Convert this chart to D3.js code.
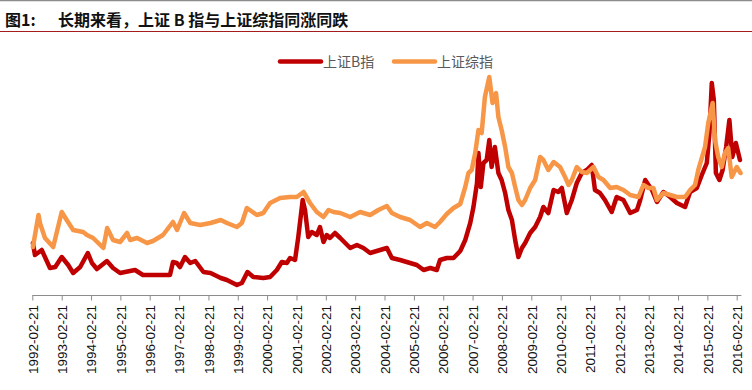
<!DOCTYPE html>
<html><head><meta charset="utf-8">
<script src="https://cdn.jsdelivr.net/npm/d3@7/dist/d3.min.js"></script>
<style>
html,body{margin:0;padding:0;background:#fff;}
svg{display:block;}
</style></head>
<body>
<svg id="chart" width="752" height="390"></svg>
<script>
// ---- data (relative index level; time in fractional years) ----
const tickYears = d3.range(1992, 2017);
const seriesNames = ["上证B指", "上证综指"];
const seriesColors = ["#C00000", "#F79646"];

const bTimes = [1992.16,1992.23,1992.46,1992.74,1992.92,1993.14,1993.36,1993.53,1993.77,1994.03,1994.17,1994.34,1994.68,1994.89,1995.13,1995.64,1995.91,1996.25,1996.83,1996.93,1997.06,1997.17,1997.34,1997.52,1997.69,1997.97,1998.21,1998.56,1998.77,1999.11,1999.28,1999.47,1999.67,2000.01,2000.24,2000.47,2000.64,2000.81,2000.92,2001.09,2001.20,2001.35,2001.43,2001.54,2001.66,2001.83,2001.94,2002.06,2002.17,2002.28,2002.45,2002.63,2002.97,2003.20,2003.42,2003.65,2003.99,2004.22,2004.39,2004.67,2005.01,2005.24,2005.47,2005.70,2005.92,2006.03,2006.26,2006.49,2006.72,2006.89,2007.06,2007.17,2007.29,2007.34,2007.42,2007.51,2007.62,2007.71,2007.79,2007.90,2008.02,2008.13,2008.25,2008.36,2008.48,2008.59,2008.70,2008.82,2008.93,2009.10,2009.27,2009.44,2009.55,2009.72,2009.90,2010.06,2010.18,2010.35,2010.52,2010.69,2010.86,2011.03,2011.20,2011.31,2011.48,2011.65,2011.88,2012.05,2012.28,2012.51,2012.74,2012.85,2013.02,2013.25,2013.42,2013.64,2013.87,2014.10,2014.38,2014.55,2014.78,2014.95,2015.12,2015.21,2015.29,2015.36,2015.43,2015.55,2015.66,2015.78,2015.89,2015.99,2016.11,2016.25];
const bValues = [20.8,16,18,10.8,11.2,15.2,12,8.8,11.2,16.8,12.8,10.4,13.6,10.8,8.8,10,8,8,8,13.2,12.8,11.2,15.2,12.8,13.6,9.2,8.8,6.8,6,4,4.8,9.2,7.2,6.8,7.2,10,13.2,12.8,14.8,14,23.2,38,34,23.2,25.2,24,27.2,21.2,24,22.8,24.8,22.8,18.8,20,18.8,16.8,18,18.8,14.8,14,12.8,12,10,10.8,10,14,14.8,14.8,17.6,22,28.8,35.2,44.8,56.8,43.2,52.8,54,62,51.2,59.2,48.8,46,40.8,34,30,22,15.2,18.8,20.8,24.8,27.2,31.2,35.2,32.8,42,41.2,42.8,32.8,38,44.8,48.8,50,52,42,40.8,38,33.2,39.2,38,32.8,34,38,46,42,37.2,41.2,39.2,36.8,35.2,41.2,42.8,48,52.8,64.8,84.8,78,48.8,46,50,59.2,70,55.2,60.8,54];

const cTimes = [1992.16,1992.35,1992.40,1992.57,1992.85,1993.14,1993.31,1993.53,1993.87,1994.00,1994.21,1994.56,1994.69,1994.89,1995.13,1995.37,1995.47,1995.71,1996.05,1996.25,1996.59,1996.93,1997.07,1997.31,1997.52,1997.86,1998.21,1998.56,1998.77,1999.11,1999.28,1999.45,1999.79,2000.01,2000.24,2000.58,2000.92,2001.15,2001.38,2001.60,2001.83,2002.06,2002.23,2002.40,2002.63,2002.97,2003.31,2003.65,2003.93,2004.22,2004.39,2004.67,2005.01,2005.35,2005.58,2005.86,2006.03,2006.26,2006.49,2006.72,2006.89,2007.00,2007.11,2007.23,2007.34,2007.45,2007.56,2007.71,2007.82,2007.94,2008.02,2008.13,2008.25,2008.36,2008.48,2008.59,2008.70,2008.82,2008.93,2009.10,2009.27,2009.44,2009.55,2009.72,2009.90,2010.12,2010.29,2010.41,2010.52,2010.69,2010.86,2011.03,2011.26,2011.43,2011.60,2011.83,2012.05,2012.28,2012.51,2012.79,2012.96,2013.13,2013.30,2013.42,2013.64,2013.87,2014.10,2014.38,2014.55,2014.72,2014.83,2014.95,2015.06,2015.17,2015.32,2015.40,2015.51,2015.63,2015.74,2015.85,2015.97,2016.14,2016.27];
const cValues = [19.2,32,28.8,22.8,19.2,33.2,30,26,25.2,24,22.8,18.8,26.8,22,21.2,24.8,22,22.8,20.8,21.6,24,29.2,26,32.8,28.8,28,28.8,30,28.8,27.2,28.8,34.8,32,32.8,36.8,38.8,39.2,39.2,41.2,36.8,33.2,31.2,34,33.2,32.8,31.2,33.2,32,34,35.6,32.8,31.2,30,27.2,28.8,27.2,29.2,32.4,34.8,36.4,43.2,48.8,50,56.8,66,64.8,79.2,87.2,76.8,80.8,71.2,66,59.2,51.2,48.8,43.2,38,36,38,42.8,46,55.2,54,50,53.2,51.2,47.2,44,46,51.2,49.2,48.8,51.2,47.2,46,42.8,43.2,42,40,39.2,44,42.8,42.8,38,40.8,40,39.2,39.2,42,44,50,54.8,59.2,68.8,76.8,62,55.2,51.2,56.8,58.8,47.2,51.2,48.8];

const titleLabel = "图1:";
const titleText = "长期来看，上证 B 指与上证综指同涨同跌";

// ---- helpers ----
function toDate(t){
  const y = Math.floor(t);
  const start = Date.UTC(y,0,1), end = Date.UTC(y+1,0,1);
  return new Date(start + (t - y) * (end - start));
}
const series = [
  {name: seriesNames[0], color: seriesColors[0], data: bTimes.map((t,i)=>({date: toDate(t), value: bValues[i]}))},
  {name: seriesNames[1], color: seriesColors[1], data: cTimes.map((t,i)=>({date: toDate(t), value: cValues[i]}))}
];
const tickDates = tickYears.map(y => new Date(Date.UTC(y,1,21)));

const svg = d3.select("#chart");
const W = 752, H = 390;

// frame lines + title
svg.append("line").attr("x1",0).attr("x2",W).attr("y1",0.5).attr("y2",0.5)
  .attr("stroke","#8c8c8c").attr("stroke-width",1.5);
svg.append("line").attr("x1",0).attr("x2",W).attr("y1",31.5).attr("y2",31.5)
  .attr("stroke","#a51c1c").attr("stroke-width",1.2);
const title = svg.append("text").attr("x",5).attr("y",26)
  .attr("font-family","'Noto Sans CJK SC', sans-serif").attr("font-weight","bold")
  .attr("font-size",16).attr("fill","#111");
title.append("tspan").text(titleLabel);
title.append("tspan").attr("x",58).text(titleText);

// scales
const x = d3.scaleUtc().domain([tickDates[0], tickDates[tickDates.length-1]]).range([32.3, 736.7]);
const y = d3.scaleLinear().domain([0, 100]).range([295, 45]);

// axis
const axisG = svg.append("g").attr("transform","translate(0,295)");
axisG.call(d3.axisBottom(x).tickValues(tickDates).tickFormat(d3.utcFormat("%Y-%m-%d")).tickSize(5).tickSizeOuter(0));
axisG.select(".domain").remove();
axisG.append("line").attr("x1",x(tickDates[0])).attr("x2",x(toDate(2016.3)))
  .attr("y1",0.5).attr("y2",0.5).attr("stroke","#8c8c8c");
axisG.selectAll(".tick line").attr("stroke","#8c8c8c").attr("transform","translate(0,0.5)");
axisG.selectAll(".tick text")
  .attr("font-family","'Liberation Sans', Arial, sans-serif").attr("font-size",13.5)
  .attr("fill","#111")
  .attr("transform","rotate(-90)")
  .attr("text-anchor","end")
  .attr("x",-10).attr("y",0).attr("dy","0.35em");

// lines
const line = d3.line().x(d=>x(d.date)).y(d=>y(d.value)).curve(d3.curveLinear);
series.forEach(s => {
  svg.append("path").datum(s.data).attr("d",line)
    .attr("fill","none").attr("stroke",s.color).attr("stroke-width",4.5)
    .attr("stroke-linejoin","round").attr("stroke-linecap","round");
});

// legend
const legendX = [280, 394];
series.forEach((s,i) => {
  const g = svg.append("g").attr("transform",`translate(${legendX[i]},61.5)`);
  g.append("line").attr("x1",0).attr("x2",41).attr("y1",0).attr("y2",0)
    .attr("stroke",s.color).attr("stroke-width",4.5).attr("stroke-linecap","round");
  g.append("text").attr("x",43).attr("y",0).attr("dy","0.36em")
    .attr("font-family","'Noto Sans CJK SC', sans-serif").attr("font-size",14)
    .attr("fill","#595959").text(s.name);
});
</script>
</body></html>
